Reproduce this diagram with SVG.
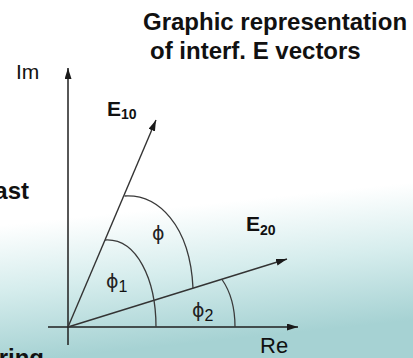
<svg xmlns="http://www.w3.org/2000/svg" width="413" height="358" viewBox="0 0 413 358">
<defs>
<linearGradient id="bg" x1="0" y1="0" x2="0.12" y2="1">
<stop offset="0" stop-color="#ffffff"/>
<stop offset="0.62" stop-color="#ffffff"/>
<stop offset="0.8" stop-color="#d6eded"/>
<stop offset="1" stop-color="#a6d2d3"/>
</linearGradient>
<marker id="ah" markerUnits="userSpaceOnUse" markerWidth="12" markerHeight="8" refX="11" refY="3.5" orient="auto">
<path d="M0,0 L11,3.5 L0,7 z" fill="#1a1a1a"/>
</marker>
<style>
.t{font-family:"Liberation Sans",Arial,sans-serif;fill:#111}
.g{font-family:"DejaVu Sans","Liberation Sans",sans-serif;fill:#222}
.b{font-weight:bold}
.ax{stroke:#1f1f1f;stroke-width:1.5;fill:none}
.vec{stroke:#333;stroke-width:1.4;fill:none}
.arc{stroke:#3a3a3a;stroke-width:1.3;fill:none}
</style>
</defs>
<rect x="0" y="0" width="413" height="358" fill="url(#bg)"/>
<g id="title">
<text class="t b" x="143" y="30" font-size="24">Graphic representation</text>
<text class="t b" x="150" y="59" font-size="24">of interf. E vectors</text>
</g>
<g id="fragments">
<text class="t b" x="29" y="199" font-size="24" text-anchor="end">ast</text>
<text class="t b" x="44" y="366" font-size="24" text-anchor="end">ring</text>
</g>
<g id="connectors">
<line id="axis-im" class="ax" x1="68" y1="345" x2="68" y2="68" marker-end="url(#ah)"/>
<line id="axis-re" class="ax" x1="48" y1="327" x2="298" y2="327" marker-end="url(#ah)"/>
<line id="vec-e10" class="vec" x1="68" y1="327" x2="156" y2="120" marker-end="url(#ah)"/>
<line id="vec-e20" class="vec" x1="68" y1="327" x2="287" y2="259" marker-end="url(#ah)"/>
</g>
<g id="label-im"><text class="t" x="16" y="79" font-size="21">Im</text></g>
<g id="label-re"><text class="t" x="260" y="353" font-size="22">Re</text></g>
<g id="label-e10"><text class="t b" x="107" y="116" font-size="21">E<tspan font-size="14" dy="3">10</tspan></text></g>
<g id="label-e20"><text class="t b" x="246" y="231" font-size="21">E<tspan font-size="14" dy="4">20</tspan></text></g>
<g id="angle-phi">
<path class="arc" d="M124.5,196 C158,194 190,225 193,288"/>
<text class="g" x="152" y="240" font-size="19">ϕ</text>
</g>
<g id="angle-phi1">
<path class="arc" d="M105,240 C137,238 156,280 156,327"/>
<text class="g" x="106" y="288" font-size="19">ϕ<tspan class="t" font-size="16" dy="4">1</tspan></text>
</g>
<g id="angle-phi2">
<path class="arc" d="M222,279.5 C230,291 235,308 235,327"/>
<text class="g" x="192" y="317" font-size="19">ϕ<tspan class="t" font-size="16" dy="4">2</tspan></text>
</g>
</svg>
